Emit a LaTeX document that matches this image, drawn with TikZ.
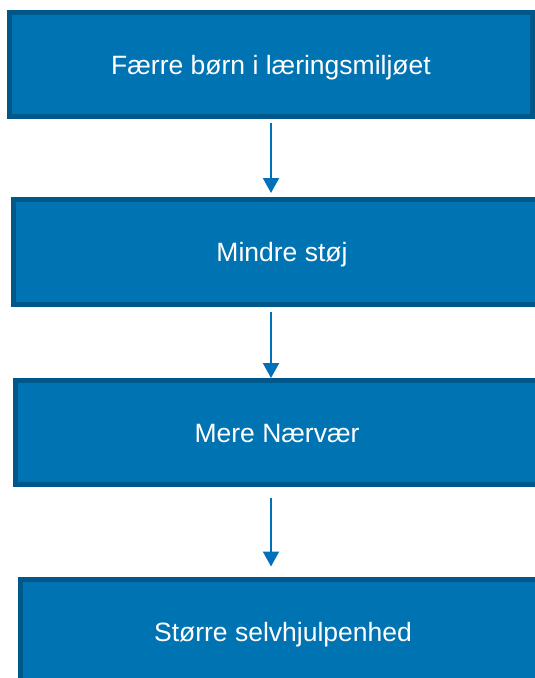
\documentclass[tikz,border=0pt]{standalone}
\usepackage{fontspec}
\setmainfont{Liberation Sans}
\usetikzlibrary{arrows.meta}
\definecolor{boxblue}{RGB}{0,115,178}
\definecolor{boxedge}{RGB}{0,88,138}
\definecolor{arrowblue}{RGB}{0,112,184}
\begin{document}
\begin{tikzpicture}[x=1pt, y=-1pt,
  stepbox/.style={draw=boxedge, fill=boxblue, line width=5pt, text=white,
    font=\fontsize{26.5}{30}\selectfont, inner sep=0pt,
    text height=19pt, text depth=0pt},
  flow/.style={draw=arrowblue, line width=2pt, -{Triangle[width=16pt,length=15pt]}}]
\useasboundingbox (0,0) rectangle (535,678);
\clip (0,0) rectangle (535,678);
\node[stepbox, minimum width=523pt, minimum height=104pt] (P_0) at (271,64.5) {Færre børn i læringsmiljøet};
\node[stepbox, minimum width=537pt, minimum height=105pt] (P_1) at (282,252) {Mindre støj};
\node[stepbox, minimum width=523pt, minimum height=104pt] (P_2) at (277,432.5) {Mere Nærvær};
\node[stepbox, minimum width=525pt, minimum height=105pt] (P_3) at (283,631.5) {Større selvhjulpenhed};
\draw[flow, shorten <=4pt, shorten >=4pt] (P_0.south) -- (P_0.south |- P_1.north);
\draw[flow, shorten <=5pt] (P_1.south -| P_0.south) -- (P_0.south |- P_2.north);
\draw[flow, shorten <=11pt, shorten >=10pt] (P_2.south -| P_0.south) -- (P_0.south |- P_3.north);
\end{tikzpicture}
\end{document}
